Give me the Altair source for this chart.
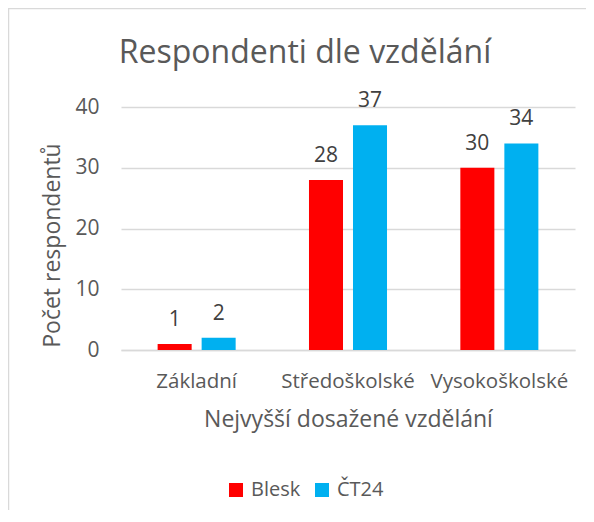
import altair as alt
import pandas as pd

categories = ["Základní", "Středoškolské", "Vysokoškolské"]
series = ["Blesk", "ČT24"]
blesk = [1, 28, 30]
ct24 = [2, 37, 34]
colors = ["#FF0000", "#00B0F0"]
y_ticks = [0, 10, 20, 30, 40]
chart_title = "Respondenti dle vzdělání"

rows = []
for c, b, t in zip(categories, blesk, ct24):
    rows.append({"cat": c, "series": series[0], "val": b})
    rows.append({"cat": c, "series": series[1], "val": t})
df = pd.DataFrame(rows)

FONT = "Open Sans"
TXT = "#595959"
GRID = "#D9D9D9"

x_enc = alt.X(
    "cat:N",
    sort=categories,
    title="Nejvyšší dosažené vzdělání",
    scale=alt.Scale(paddingInner=0.4845, paddingOuter=0.242),
    axis=alt.Axis(
        labelAngle=0, labelFontSize=20.5, labelColor=TXT, labelPadding=21,
        titleFontSize=23, titleColor=TXT, titlePadding=17, titleFontWeight="normal",
        ticks=False, domainColor=GRID, domainWidth=1.5, labelFont=FONT, titleFont=FONT,
    ),
)
y_enc = alt.Y(
    "val:Q",
    title="Počet respondentů",
    scale=alt.Scale(domain=[0, 40], nice=False),
    axis=alt.Axis(
        values=y_ticks, labelFontSize=21, labelColor=TXT, labelPadding=22,
        titleFontSize=23, titleColor=TXT, titlePadding=10, titleFontWeight="normal",
        titleY=138,
        ticks=False, domain=False, gridColor=GRID, gridWidth=1.5,
        labelFont=FONT, titleFont=FONT,
    ),
)
xoff = alt.XOffset("series:N", sort=series, scale=alt.Scale(paddingInner=0.227, paddingOuter=0))

bars = alt.Chart(df).mark_bar().encode(
    x=x_enc,
    y=y_enc,
    xOffset=xoff,
    color=alt.Color(
        "series:N", sort=series,
        scale=alt.Scale(domain=series, range=colors),
        legend=alt.Legend(
            title=None, orient="none", legendX=105, legendY=373, direction="horizontal",
            symbolType="square", symbolSize=196, symbolStrokeWidth=0, labelFontSize=20,
            labelColor=TXT, labelFont=FONT, labelOffset=5, columnPadding=11, padding=0,
        ),
    ),
)

labels = alt.Chart(df).mark_text(
    dy=-18, baseline="alphabetic", fontSize=21, color="#404040", font=FONT
).encode(
    x=alt.X("cat:N", sort=categories),
    y=alt.Y("val:Q"),
    xOffset=alt.XOffset("series:N", sort=series),
    text=alt.Text("val:Q"),
)

one = pd.DataFrame({"t": [chart_title]})
title_mark = alt.Chart(one).mark_text(
    fontSize=32, font=FONT, color=TXT, align="center", baseline="alphabetic"
).encode(text="t:N", x=alt.value(184), y=alt.value(-44))

border = alt.Chart(one).mark_rect(
    fillOpacity=0, stroke=GRID, strokeWidth=1.5
).encode(x=alt.value(-112.5), x2=alt.value(700), y=alt.value(-98.5), y2=alt.value(700))

chart = alt.layer(bars, labels, title_mark, border).properties(
    width=454, height=243,
    padding={"left": 113, "top": 99, "right": 11, "bottom": 160},
    autosize=alt.AutoSizeParams(type="none"),
).configure_view(stroke=None)

chart.save("out.html", embed_options={"renderer": "svg", "actions": False})
